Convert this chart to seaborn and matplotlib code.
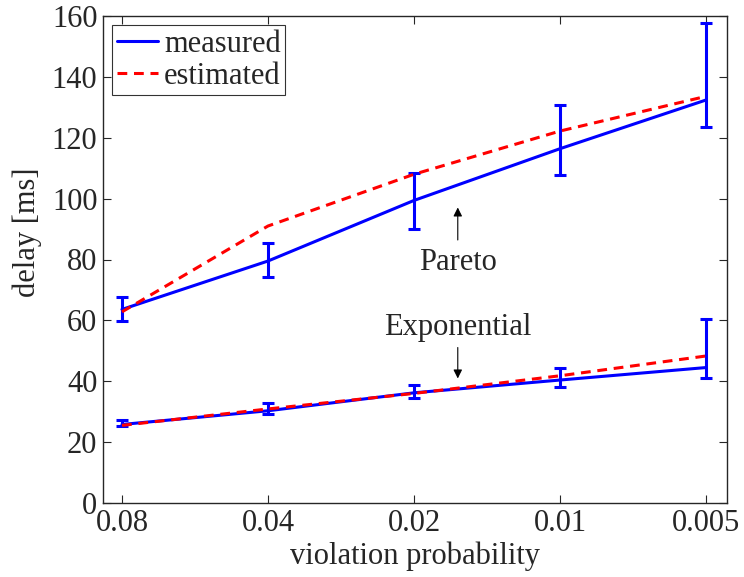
import numpy as np
import pandas as pd
import matplotlib
matplotlib.use("Agg")
import matplotlib.pyplot as plt
import seaborn as sns

# ---- data ----
prob_labels = ["0.08", "0.04", "0.02", "0.01", "0.005"]
pareto_measured = [63.6, 79.5, 99.4, 116.4, 132.4]
pareto_err_hi = [67.6, 85.3, 108.5, 130.8, 157.6]
pareto_err_lo = [59.8, 74.4, 90.1, 107.8, 123.4]
pareto_estimated = [62.8, 91.0, 108.0, 122.2, 133.6]
expo_measured = [25.8, 30.3, 36.2, 40.4, 44.5]
expo_err_hi = [27.2, 32.7, 38.7, 44.4, 60.3]
expo_err_lo = [25.2, 29.2, 34.4, 38.1, 41.2]
expo_estimated = [25.5, 30.9, 36.0, 41.8, 48.3]

sns.set_style("ticks")
plt.rcParams["font.family"] = ["Liberation Serif", "DejaVu Serif"]

FS = 22

pos = np.arange(len(prob_labels))
rows = []
for name, vals in [("Pareto", pareto_measured), ("Exponential", expo_measured)]:
    for p, v in zip(pos, vals):
        rows.append({"x": p, "delay": v, "dist": name, "kind": "measured"})
for name, vals in [("Pareto", pareto_estimated), ("Exponential", expo_estimated)]:
    for p, v in zip(pos, vals):
        rows.append({"x": p, "delay": v, "dist": name, "kind": "estimated"})
df = pd.DataFrame(rows)

fig = plt.figure(figsize=(7.44, 5.77), dpi=100)
ax = fig.add_axes([103 / 744, 1 - 503 / 577, 624 / 744, 487 / 577])

blue = "#0000ff"
red = "#ff0000"
lw = 2.2

for dist in ["Pareto", "Exponential"]:
    sub = df[(df.dist == dist) & (df.kind == "estimated")]
    sns.lineplot(data=sub, x="x", y="delay", ax=ax, color=red, lw=lw,
                 linestyle=(0, (3.2, 2.2)), label="estimated" if dist == "Pareto" else None,
                 zorder=3)
    sub = df[(df.dist == dist) & (df.kind == "measured")]
    sns.lineplot(data=sub, x="x", y="delay", ax=ax, color=blue, lw=lw,
                 label="measured" if dist == "Pareto" else None, zorder=2)

for meas, hi, lo in [(pareto_measured, pareto_err_hi, pareto_err_lo),
                     (expo_measured, expo_err_hi, expo_err_lo)]:
    meas = np.array(meas)
    yerr = np.vstack([meas - np.array(lo), np.array(hi) - meas])
    ax.errorbar(pos, meas, yerr=yerr, fmt="none", ecolor=blue, elinewidth=lw,
                capsize=4.5, capthick=lw, zorder=2)

ax.set_xlim(-0.13, 4.144)
ax.set_ylim(0, 160)
ax.set_xticks(pos)
ax.set_xticklabels(prob_labels)
ax.set_yticks(np.arange(0, 161, 20))
ax.tick_params(direction="in", top=True, right=True, labelsize=FS, length=6,
               width=0.8, pad=4)
for s in ax.spines.values():
    s.set_linewidth(1.0)
ax.set_xlabel("violation probability", fontsize=FS, labelpad=3)
ax.set_ylabel("delay [ms]", fontsize=FS)
ax.yaxis.set_label_coords(-0.098, 0.555)

handles, labels = ax.get_legend_handles_labels()
order = [labels.index("measured"), labels.index("estimated")]
leg = ax.legend([handles[i] for i in order], [labels[i] for i in order],
                loc="upper left", fontsize=FS, frameon=True, fancybox=False,
                edgecolor="black", handlelength=1.35, handletextpad=0.2,
                borderpad=0.15, labelspacing=0.1, borderaxespad=0.3)
leg.get_frame().set_linewidth(0.8)

ax.annotate("", xy=(2.3, 98.0), xytext=(2.3, 85.5),
            arrowprops=dict(arrowstyle="-|>", color="black", lw=0.8, mutation_scale=13))
ax.text(2.3, 79.0, "Pareto", ha="center", va="center", fontsize=FS)
ax.annotate("", xy=(2.3, 40.0), xytext=(2.3, 52.0),
            arrowprops=dict(arrowstyle="-|>", color="black", lw=0.8, mutation_scale=13))
ax.text(2.3, 57.8, "Exponential", ha="center", va="center", fontsize=FS)

fig.savefig("out.png", dpi=100)
